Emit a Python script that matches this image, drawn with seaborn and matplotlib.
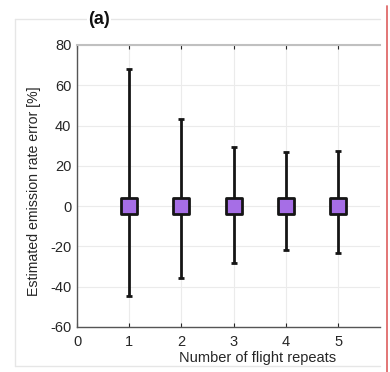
import matplotlib
matplotlib.use("Agg")
import matplotlib.pyplot as plt
import seaborn as sns
import pandas as pd
import numpy as np
from matplotlib.lines import Line2D

repeats = [1, 2, 3, 4, 5]
median_error = [0, 0, 0, 0, 0]
upper_error = [67.9, 43.2, 29.6, 27.1, 27.4]
lower_error = [-44.8, -35.6, -28.4, -21.7, -23.2]

df = pd.DataFrame({"repeats": repeats, "error": median_error,
                   "upper": upper_error, "lower": lower_error})

sns.set_theme(style="whitegrid")
plt.rcParams['font.family'] = ['Liberation Sans', 'DejaVu Sans']
plt.rcParams['axes.unicode_minus'] = False

fig = plt.figure(figsize=(3.9, 3.72), dpi=100)
ax = fig.add_axes([77/390, 1-327/372, (380-77)/390, (327-45)/372])

yerr = np.array([df["error"] - df["lower"], df["upper"] - df["error"]])
ax.errorbar(df["repeats"], df["error"], yerr=yerr, fmt="none", ecolor="#151515",
            elinewidth=2.0, capsize=2.5, capthick=2.0, zorder=3)
sns.scatterplot(data=df, x="repeats", y="error", ax=ax, marker="s", s=125,
                color="#a66ee6", edgecolor="#151515", linewidth=2.0, zorder=4,
                legend=False)

ax.set_xlim(0, 5.8)
ax.set_ylim(-60, 80)
ax.set_xticks([0, 1, 2, 3, 4, 5])
ax.set_yticks([-60, -40, -20, 0, 20, 40, 60, 80])
ax.grid(True, color="#ebebeb", linewidth=0.8)
ax.set_axisbelow(True)
ax.tick_params(axis="both", labelsize=10.5, colors="#262626", length=3, width=0.8,
               direction="in", pad=4)
ax.tick_params(axis="x", top=True, bottom=True, pad=6)
for s in ["left", "bottom"]:
    ax.spines[s].set_color("#555555")
    ax.spines[s].set_linewidth(1.0)
ax.spines["top"].set_color("#c0c0c0")
ax.spines["top"].set_linewidth(1.5)
ax.spines["right"].set_visible(False)

ax.set_xlabel("Number of flight repeats", fontsize=10.5, color="#262626")
ax.set_ylabel("Estimated emission rate error [%]", fontsize=10.2, color="#262626")
ax.xaxis.set_label_coords((258 - 77) / (380 - 77), -0.085)
ax.yaxis.set_label_coords(-(77 - 41) / (380 - 77), 0.48)

# surrounding panel frame
fig.add_artist(Line2D([15/390, 380/390], [1-19/372, 1-19/372], color="#e6e6e6", lw=1.0))
fig.add_artist(Line2D([15/390, 15/390], [1-19/372, 1-366/372], color="#e6e6e6", lw=1.0))
fig.add_artist(Line2D([15/390, 380/390], [1-366/372, 1-366/372], color="#e6e6e6", lw=1.0))
# red edge line
fig.add_artist(Line2D([387/390, 387/390], [1-6/372, 0], color="#e06a6a", lw=1.3))

fig.text(99/390, 1-20/372, "(a)", fontsize=13, fontweight="bold", ha="center", va="center",
         color="#111111",
         bbox=dict(facecolor="white", edgecolor="none", pad=1))

fig.savefig("out.png", dpi=100)
